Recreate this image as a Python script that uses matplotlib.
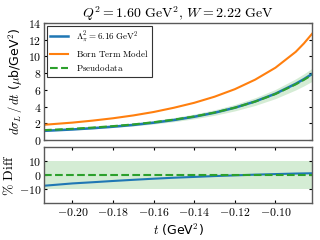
import numpy as np
import matplotlib
matplotlib.use('Agg')
import matplotlib.pyplot as plt
from matplotlib.ticker import FuncFormatter

plt.rcParams['mathtext.fontset'] = 'cm'

# valores
t = [-0.214, -0.20, -0.19, -0.18, -0.17, -0.16, -0.15, -0.14,
     -0.13, -0.12, -0.11, -0.10, -0.09, -0.086, -0.082]
born = [1.82, 2.08, 2.32, 2.60, 2.94, 3.35, 3.86, 4.45,
        5.18, 6.08, 7.22, 8.65, 10.55, 11.55, 12.70]
modelo = [1.09, 1.26, 1.41, 1.59, 1.80, 2.07, 2.39, 2.78,
          3.26, 3.86, 4.61, 5.54, 6.73, 7.28, 7.89]
pseudo = [1.180, 1.340, 1.486, 1.660, 1.863, 2.125, 2.436, 2.817,
          3.283, 3.868, 4.596, 5.501, 6.657, 7.194, 7.789]
erro_pct = 10.0  # banda de incerteza (%)

t = np.array(t)
born = np.array(born)
modelo = np.array(modelo)
pseudo = np.array(pseudo)
diff = 100 * (modelo - pseudo) / pseudo

fig = plt.figure(figsize=(3.2, 2.4), dpi=100)
ax1 = fig.add_axes([0.1375, 0.4167, 0.8375, 0.4875])
ax2 = fig.add_axes([0.1375, 0.154, 0.8375, 0.233])

# painel de cima
ax1.fill_between(t, pseudo * (1 - erro_pct / 100), pseudo * (1 + erro_pct / 100),
                 color='#2ca02c', alpha=0.2, lw=0)
ax1.plot(t, modelo, color='#1f77b4', lw=1.8, label=r'$\Lambda_\pi^2=6.16\ \mathrm{GeV}^2$')
ax1.plot(t, born, color='#ff7f0e', lw=1.5, label=r'$\mathrm{Born\ Term\ Model}$')
ax1.plot(t, pseudo, color='#2ca02c', lw=1.5, ls='--', label=r'$\mathrm{Pseudodata}$')
ax1.set_xlim(-0.214, -0.082)
ax1.set_ylim(0, 14)
ax1.set_yticks([0, 2, 4, 6, 8, 10, 12, 14])
ax1.yaxis.set_major_formatter(FuncFormatter(lambda v, p: '$%d$' % v))
ax1.set_xticklabels([])
ax1.tick_params(axis='x', bottom=False, top=False)
ax1.tick_params(axis='y', direction='in', right=True, labelsize=8.5, length=2, pad=2)
ax1.set_ylabel(r'$d\sigma_L\,/\,dt$ ($\mu$b/GeV$^2$)', fontsize=9, labelpad=2)
ax1.set_title(r'$Q^2=1.60\ \mathrm{GeV}^2,\,W=2.22\ \mathrm{GeV}$', fontsize=10, pad=3)
leg = ax1.legend(loc='upper left', fontsize=6.5, fancybox=False, framealpha=1,
                 edgecolor='0.2', borderaxespad=0.3, labelspacing=0.35)
leg.get_frame().set_linewidth(0.8)

# painel de baixo
ax2.fill_between(t, -erro_pct, erro_pct, color='#2ca02c', alpha=0.2, lw=0)
ax2.plot(t, diff, color='#1f77b4', lw=1.5)
ax2.axhline(0, color='#2ca02c', lw=1.5, ls='--')
ax2.set_xlim(-0.214, -0.082)
ax2.set_ylim(-20, 20)
ax2.set_yticks([-10, 0, 10])
ax2.set_xticks([-0.20, -0.18, -0.16, -0.14, -0.12, -0.10])
ax2.yaxis.set_major_formatter(FuncFormatter(lambda v, p: '$%d$' % v))
ax2.xaxis.set_major_formatter(FuncFormatter(lambda v, p: '$%.2f$' % v))
ax2.tick_params(direction='in', top=True, right=True, labelsize=8.5, length=2, pad=2)
ax2.set_ylabel(r'$\%\ \mathrm{Diff}$', fontsize=10, labelpad=2)
ax2.set_xlabel(r'$t$ (GeV$^2$)', fontsize=9, labelpad=2)

for ax in (ax1, ax2):
    for s in ax.spines.values():
        s.set_color('0.35')
        s.set_linewidth(1.0)

plt.savefig('out.png', dpi=100)
